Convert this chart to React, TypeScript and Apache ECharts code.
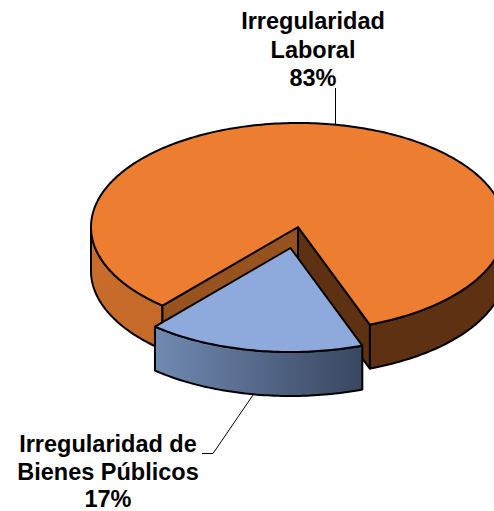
import React, { useEffect, useRef } from "react";
import * as echarts from "echarts";

const categories = ["Irregularidad\nLaboral", "Irregularidad de\nBienes Públicos"];
const seriesValues = [83, 17];

const CX = 298, CY = 227, RX = 207, RY = 104, DEPTH = 44;
const START_DEG = 130.9;
const OFFSETS = [[0, 0], [-7.5, 21]];
const TOPS = ["#ED7D31", "#8EA9DB"];
const LABEL_POS = [[313, 49.5], [108, 471.5]];
const LABEL_LINE_HEIGHTS = [28.5, 27.5];
const BLACK = "#000000";

const total = seriesValues.reduce((s, v) => s + v, 0);
const rad = (d: number) => (d * Math.PI) / 180;

function arc(from: number, to: number, ox: number, oy: number): number[][] {
  const out: number[][] = [];
  const n = Math.max(2, Math.ceil(Math.abs(to - from)));
  for (let i = 0; i <= n; i++) {
    const t = rad(from + ((to - from) * i) / n);
    out.push([CX + ox + RX * Math.cos(t), CY + oy + RY * Math.sin(t)]);
  }
  return out;
}

function poly(points: number[][], fill: any, lw = 2) {
  return {
    type: "polygon",
    shape: { points },
    silent: true,
    style: { fill, stroke: BLACK, lineWidth: lw, lineJoin: "round" },
  };
}

function wall(from: number, to: number, ox: number, oy: number, fill: any) {
  const upper = arc(from, to, ox, oy);
  const lower = arc(from, to, ox, oy + DEPTH).reverse();
  return poly(upper.concat(lower), fill);
}

function renderSlice(params: any, api: any) {
  const i = params.dataIndex;
  const value = api.value(1);
  let start = START_DEG;
  for (let k = 0; k < i; k++) start += (seriesValues[k] / total) * 360;
  const end = start + (value / total) * 360;
  const mid = (start + end) / 2;
  const [ox, oy] = OFFSETS[i];
  const children: any[] = [];

  // leader lines start at the slice's angular midpoint
  const mx = CX + ox + RX * Math.cos(rad(mid));
  const isFront = Math.sin(rad(mid)) > 0;
  const my = CY + oy + RY * Math.sin(rad(mid)) + (isFront ? DEPTH : 0);

  if (i === 0) {
    const apex = [CX, CY];
    const corner = (deg: number) => [CX + RX * Math.cos(rad(deg)), CY + RY * Math.sin(rad(deg))];
    const a = corner(start), b = corner(end);
    const drop = (p: number[]) => [p[0], p[1] + DEPTH];
    const lx = Math.floor(mx) + 0.5;
    children.push(
      wall(start, 180, ox, oy, new echarts.graphic.LinearGradient(0, 0, 1, 0, [
        { offset: 0, color: "#C76C2B" },
        { offset: 1, color: "#C56A29" },
      ])),
      wall(360, end, ox, oy, "#5E3113"),
      poly([apex, a, drop(a), drop(apex)], "#96521F"),
      poly([apex, b, drop(b), drop(apex)], "#5E3113"),
      poly([apex].concat(arc(start, end, ox, oy)), TOPS[i]),
      {
        type: "line",
        silent: true,
        shape: { x1: lx, y1: my, x2: lx, y2: 88 },
        style: { stroke: BLACK, lineWidth: 1 },
      }
    );
  } else {
    children.push(
      {
        type: "polyline",
        silent: true,
        shape: { points: [[mx, my], [213, 453.5], [202, 453.5]] },
        style: { stroke: BLACK, lineWidth: 1, fill: "none" },
      },
      wall(start, end, ox, oy, new echarts.graphic.LinearGradient(0, 0, 1, 0, [
        { offset: 0, color: "#7189B2" },
        { offset: 1, color: "#394760" },
      ])),
      poly([[CX + ox, CY + oy]].concat(arc(start, end, ox, oy)), TOPS[i])
    );
  }

  children.push({
    type: "text",
    silent: true,
    style: {
      text: `${categories[i]}\n${value}%`,
      x: LABEL_POS[i][0],
      y: LABEL_POS[i][1],
      align: "center",
      verticalAlign: "middle",
      fontFamily: "Liberation Sans",
      fontWeight: "bold",
      fontSize: 23.5,
      lineHeight: LABEL_LINE_HEIGHTS[i],
      fill: BLACK,
    },
  });

  return { type: "group", children };
}

export default function App() {
  const ref = useRef<HTMLDivElement>(null);
  useEffect(() => {
    document.body.style.margin = "0";
    const chart = echarts.init(ref.current!, null, { renderer: "svg" });
    chart.setOption({
      animation: false,
      series: [
        {
          type: "custom",
          coordinateSystem: "none",
          silent: true,
          clip: false,
          renderItem: renderSlice,
          data: seriesValues.map((v, i) => [i, v]),
          encode: { value: 1 },
        },
      ],
    });
    return () => chart.dispose();
  }, []);
  return <div ref={ref} style={{ width: 494, height: 511 }} />;
}
